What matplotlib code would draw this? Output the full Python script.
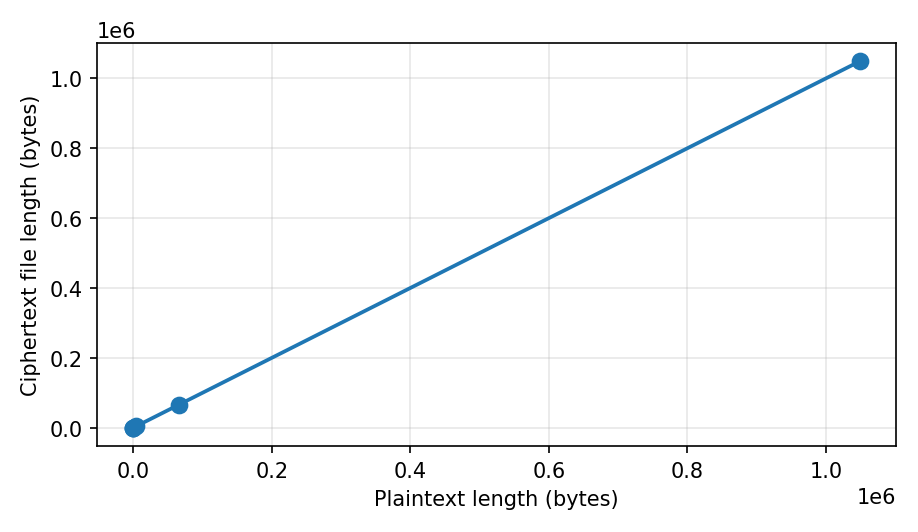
import matplotlib
matplotlib.use("Agg")
import matplotlib.pyplot as plt

plaintext_len = [1, 16, 256, 4096, 65536, 1048576]
ciphertext_len = [45, 60, 300, 4140, 65580, 1048620]

fig = plt.figure(figsize=(6.12, 3.553), dpi=150)
ax = fig.add_axes([97 / 918, 1 - 447 / 533, (896 - 97) / 918, (447 - 44) / 533])

ax.plot(plaintext_len, ciphertext_len, marker="o", color="#1f77b4",
        linewidth=1.8, markersize=7.5)
ax.set_xlabel("Plaintext length (bytes)")
ax.set_ylabel("Ciphertext file length (bytes)")
ax.grid(True, alpha=0.3)

fig.savefig("out.png", dpi=150)
